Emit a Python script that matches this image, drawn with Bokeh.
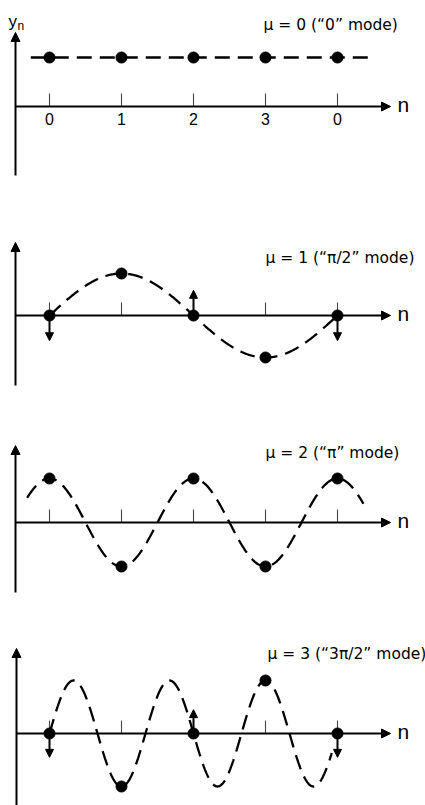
import numpy as np
from bokeh.plotting import figure
from bokeh.layouts import column
from bokeh.models import Range1d, Arrow, NormalHead
from bokeh.core.properties import value
from bokeh.embed import file_html
from bokeh.resources import INLINE

# ---------------- data ----------------
sites = [0, 1, 2, 3, 4]
tick_labels = ["0", "1", "2", "3", "0"]
mode_numbers = [0, 1, 2, 3]
mode_titles = ["μ = 0 (“0” mode)", "μ = 1 (“π/2” mode)",
               "μ = 2 (“π” mode)", "μ = 3 (“3π/2” mode)"]
disp_mu0 = [1, 1, 1, 1, 1]
disp_mu1 = [0, 1, 0, -1, 0]
disp_mu2 = [1, -1, 1, -1, 1]
disp_mu3 = [0, -1, 0, 1, 0]
vel_mu0 = [0, 0, 0, 0, 0]
vel_mu1 = [-0.6, 0, 0.6, 0, -0.6]
vel_mu2 = [0, 0, 0, 0, 0]
vel_mu3 = [-0.45, 0, 0.45, 0, -0.45]
wave_phase = [0.0, 0.5, 0.0, 0.5]          # in units of pi
wave_start = [-0.26, 0.0, -0.31, 0.0]      # n range of dashed wave
wave_end = [4.53, 3.95, 4.36, 3.92]

displacements = [disp_mu0, disp_mu1, disp_mu2, disp_mu3]
velocities = [vel_mu0, vel_mu1, vel_mu2, vel_mu3]

# ---------------- layout (pixels) ----------------
FONT = value("Liberation Sans")
TFONT = value("DejaVu Sans")
W = 425
X0_PX, DX_PX = 49, 72                       # pixel of n=0, pixels per site
panel_h = [200, 200, 200, 205]
axis_px = [106, 115, 122, 133]              # x-axis pixel row from panel top
amp_px = [49, 42, 44, 53]                   # wave amplitude in pixels
yaxis_top_px = [32, 42, 45, 48]
yaxis_bot_px = [175, 185, 192, 205]
yaxis_x_px = [15, 15, 15, 16]
title_px = [(263, 24), (265, 57), (265, 52), (267, 53)]

x_lo = -X0_PX / DX_PX
x_hi = (W - X0_PX) / DX_PX


def px_to_n(px):
    return (px - X0_PX) / DX_PX


figs = []
for i, mu in enumerate(mode_numbers):
    H = panel_h[i]
    A = amp_px[i]
    ax = axis_px[i]
    y_hi = ax / A
    y_lo = -(H - ax) / A
    p = figure(width=W, height=H, x_range=Range1d(x_lo, x_hi),
               y_range=Range1d(y_lo, y_hi), output_backend="svg",
               toolbar_location=None, x_axis_location=None,
               y_axis_location=None, min_border=0)
    p.outline_line_color = None
    p.grid.visible = False
    p.background_fill_color = "white"

    def v(px):
        return (ax - px) / A

    # vertical axis with arrow
    yx = px_to_n(yaxis_x_px[i])
    p.add_layout(Arrow(end=NormalHead(size=9, fill_color="black", line_color="black", line_width=1),
                       x_start=yx, y_start=v(yaxis_bot_px[i]), x_end=yx, y_end=v(yaxis_top_px[i]),
                       line_width=2, line_color="black"))
    # horizontal axis with arrow
    p.add_layout(Arrow(end=NormalHead(size=9, fill_color="black", line_color="black", line_width=1),
                       x_start=yx, y_start=0, x_end=px_to_n(390), y_end=0,
                       line_width=2, line_color="black"))
    p.text(x=[px_to_n(397)], y=[0], text=["n"], text_font=FONT, text_font_size="21px",
           text_baseline="middle", text_align="left", y_offset=-2, text_color="black")

    # ticks
    tick_h = 13 / A
    p.segment(x0=sites, y0=[0] * len(sites), x1=sites, y1=[tick_h] * len(sites),
              line_color="#444444", line_width=1.1)
    if i == 0:
        p.text(x=sites, y=[0] * len(sites), text=tick_labels, text_font=FONT,
               text_font_size="16px", text_align="center", text_baseline="top",
               y_offset=6, text_color="black")
        p.text(x=[px_to_n(8)], y=[v(21)], text=["y"], text_font=FONT,
               text_font_size="17px", text_align="left", text_baseline="alphabetic")
        p.text(x=[px_to_n(17)], y=[v(25)], text=["n"], text_font=FONT,
               text_font_size="12px", text_align="left", text_baseline="alphabetic")

    # dashed wave
    nn = np.linspace(wave_start[i], wave_end[i], 500)
    yy = np.cos(mu * np.pi * nn / 2 - wave_phase[i] * np.pi)
    p.line(nn, yy, line_color="black", line_width=2.3, line_dash="15 8")

    # velocity arrows
    for n, d, vel in zip(sites, displacements[i], velocities[i]):
        if vel != 0:
            p.add_layout(Arrow(end=NormalHead(size=8, fill_color="black", line_color="black", line_width=1),
                               x_start=n, y_start=d, x_end=n, y_end=d + vel,
                               line_width=2, line_color="black"))

    # site dots
    p.scatter(x=sites, y=displacements[i], size=11, color="black")

    # title
    tx, ty = title_px[i]
    p.text(x=[px_to_n(tx)], y=[v(ty)], text=[mode_titles[i]], text_font=TFONT,
           text_font_size="15.5px", text_align="left", text_baseline="middle",
           text_color="black")
    figs.append(p)

layout = column(*figs, spacing=0)
open("out.html", "w").write(file_html(layout, INLINE))
